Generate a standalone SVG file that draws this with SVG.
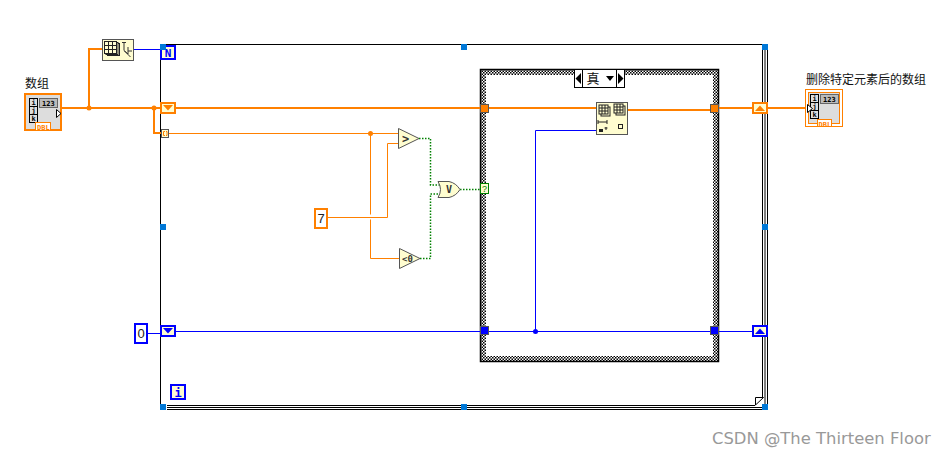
<svg xmlns="http://www.w3.org/2000/svg" width="948" height="454" viewBox="0 0 948 454">
<defs>
<pattern id="chk" width="3" height="3" patternUnits="userSpaceOnUse"><rect width="3" height="3" fill="#fff"/><rect width="1.500" height="1.500" fill="#000"/><rect x="1.500" y="1.500" width="1.500" height="1.500" fill="#000"/></pattern>
<g id="grid"><rect x="3" y="2" width="12" height="12" fill="#fffdd0" stroke="#222"/><rect x="1.500" y="1" width="12" height="12" fill="#fffdd0" stroke="#222"/><rect x="0" y="0" width="12" height="12" fill="#fffdd0" stroke="#222"/><path d="M4 0V12M8 0V12M0 4H12M0 8H12" stroke="#222" fill="none"/></g>
<g id="grids"><rect x="2" y="2" width="9" height="9" fill="#fffdd0" stroke="#222"/><rect x="0" y="0" width="9" height="9" fill="#fffdd0" stroke="#222"/><path d="M3 0V9M6 0V9M0 3H9M0 6H9" stroke="#222" fill="none"/></g>
</defs>
<style>
.lb{font-family:"Liberation Sans","Noto Sans CJK SC",sans-serif;font-size:12px;fill:#111}
.org{stroke:#ff8000;fill:none}
.blu{stroke:#0000ff;fill:none}
.grn{stroke:#008000;stroke-width:1.500;stroke-dasharray:1.500 1.500;fill:none}
.hnd{fill:#0078d7}
.fn{fill:#fffdd0;stroke:#555;stroke-width:1}
.idx{fill:#ddd;stroke:#000}
.mono{font-family:"DejaVu Sans Mono",monospace;font-weight:bold}
</style>
<rect width="948" height="454" fill="#fff"/>
<g id="while-loop" fill="none" stroke="#000">
<path d="M163 44.500H762M160.500 47V404"/>
<path d="M762.500 50V397M765 50V404M767.500 50V404"/>
<path d="M167 405.500H755M167 407.500H762M167 409.500H762"/>
<path d="M755.500 405V397.500H763.500L755.500 405Z" fill="#fff"/>
</g>
<g id="case-structure">
<path fill-rule="evenodd" d="M480 69H719V362H480ZM486 75V356H713V75Z" fill="url(#chk)"/>
<rect x="480.500" y="69.500" width="238" height="292" fill="none" stroke="#000" stroke-width="1.500"/>
</g>
<g id="connectors">
<path class="org" stroke-width="2" d="M62 108H480M89 108V49H102M154 108V133H161"/>
<path class="org" stroke-width="2" d="M489 108H596M628 110H710M719 108H805"/>
<path class="org" d="M169 133.500H398M370.500 133.500V214.500M370.500 219.500V258.500H399M328 217.500H387.500V143.500H398"/>
<circle cx="89" cy="108" r="2.500" fill="#ff8000"/><circle cx="154" cy="108" r="2.500" fill="#ff8000"/><circle cx="370.500" cy="133.500" r="2.500" fill="#ff8000"/>
<path class="blu" stroke-width="1" d="M134 49.500H160M148 333.500H160M176 331.500H752M535.500 331V130.500H597"/>
<circle cx="535.500" cy="331.500" r="2.500" fill="#0000ff"/>
<path class="grn" d="M419 138.500H430.500V185H441M420 258.500H430.500V194H441M460 189.500H481"/>
</g>
<g id="input-array">
<text class="lb" x="25" y="88">数组</text>
<rect x="25" y="94" width="36" height="36" fill="#ddd" stroke="#ff8000" stroke-width="2"/>
<rect class="idx" x="29.500" y="98.500" width="8" height="8"/><rect class="idx" x="29.500" y="106.500" width="8" height="8"/><rect class="idx" x="29.500" y="114.500" width="8" height="8"/>
<text class="mono" font-size="7" x="31.500" y="105">i</text><text class="mono" font-size="7" x="31.500" y="113">j</text><text class="mono" font-size="7" x="31.500" y="121">k</text>
<rect x="39.500" y="98.500" width="18" height="9" fill="#bbb" stroke="#666"/><text class="mono" font-size="7" x="42" y="106">123</text>
<rect x="35.500" y="122.500" width="15" height="8" fill="#fff" stroke="#ff8000"/><text class="mono" font-size="7" x="37" y="129.500" fill="#ff8000">DBL</text>
<path d="M56.500 109.500L61 113.500L56.500 117.500Z" fill="#fff" stroke="#000"/>
</g>
<g id="array-size">
<rect x="102.500" y="39.500" width="31" height="21" class="fn"/>
<use href="#grid" x="104.500" y="41.500"/>
<path d="M122 42.500H126M124 42.500V50M128 47V54L124 50.500L130.500 57M128 51H132" stroke="#333" fill="none"/>
</g>
<g id="count-terminal">
<rect x="161" y="46" width="14" height="13" fill="#fffdd0" stroke="#0000ff" stroke-width="2"/>
<text x="168" y="57" font-size="11" text-anchor="middle" class="mono" fill="#0000ff">N</text>
</g>
<g id="shift-left-top"><rect x="161" y="103" width="14" height="10" fill="#fffdd0" stroke="#ff8000" stroke-width="2"/><path d="M163 105H173L168 110.500Z" fill="#ff8000"/></g>
<g id="index-tunnel"><rect x="161.500" y="129.500" width="7" height="8" fill="#fffdd0" stroke="#555"/><path d="M165 131.500H163.500V135.500H165M166 131.500H167V135.500H166" stroke="#ff8000" fill="none"/></g>
<g id="shift-right-top"><rect x="753" y="103" width="14" height="10" fill="#fffdd0" stroke="#ff8000" stroke-width="2"/><path d="M755 111H765L760 105.500Z" fill="#ff8000"/></g>
<g id="output-array">
<text class="lb" x="806" y="84">删除特定元素后的数组</text>
<rect x="805.500" y="89.500" width="37" height="37" fill="#fff" stroke="#ff8000"/>
<rect x="808.500" y="92.500" width="31" height="31" fill="#ddd" stroke="#ff8000"/>
<rect class="idx" x="810.500" y="94.500" width="8" height="8"/><rect class="idx" x="810.500" y="102.500" width="8" height="8"/><rect class="idx" x="810.500" y="110.500" width="8" height="8"/>
<text class="mono" font-size="7" x="812.500" y="101">i</text><text class="mono" font-size="7" x="812.500" y="109">j</text><text class="mono" font-size="7" x="812.500" y="117">k</text>
<rect x="820.500" y="94.500" width="18" height="9" fill="#bbb" stroke="#666"/><text class="mono" font-size="7" x="823" y="102">123</text>
<rect x="817.500" y="119.500" width="14" height="7" fill="#fff" stroke="#ff8000"/><text class="mono" font-size="7" x="818.500" y="126.500" fill="#ff8000">DBL</text>
<path d="M807.500 104.500L812.500 108.500L807.500 112.500Z" fill="#fff" stroke="#000"/>
</g>
<g id="case-selector">
<rect x="574.500" y="69.500" width="50" height="18" fill="#fff" stroke="#000"/>
<path d="M582.500 69.500V87.500M616.500 69.500V87.500" stroke="#000"/>
<path d="M581 73V84L575.500 78.500ZM618 73V84L623.500 78.500ZM606 76H614L610 81Z" fill="#000"/>
<text x="593" y="83" font-size="13" text-anchor="middle" font-family="'Noto Sans CJK SC',sans-serif" fill="#111">真</text>
</g>
<g id="tunnels">
<rect x="480.500" y="104.500" width="8" height="8" fill="#ff8000" stroke="#555"/>
<rect x="710.500" y="104.500" width="8" height="8" fill="#ff8000" stroke="#555"/>
<rect x="480.500" y="326.500" width="8" height="8" fill="#0000ff" stroke="#555"/>
<rect x="710.500" y="326.500" width="8" height="8" fill="#0000ff" stroke="#555"/>
</g>
<g id="delete-from-array">
<rect x="596.500" y="102.500" width="31" height="32" class="fn"/>
<use href="#grids" x="599" y="105"/><use href="#grids" x="614" y="104"/>
<path d="M598 120V124M607 120V124M598 122H607" stroke="#222" fill="none"/>
<rect x="599" y="129" width="4" height="3" fill="#222"/>
<path d="M606 130V127M604.500 128H607.500" stroke="#222" fill="none"/>
<rect x="618.500" y="124.500" width="4" height="4" fill="#fffdd0" stroke="#222"/>
</g>
<g id="greater-than"><path class="fn" d="M398.500 128.500L419 138.500L398.500 148.500Z"/><text x="405.500" y="143" font-size="12" text-anchor="middle" class="mono" fill="#333">&gt;</text></g>
<g id="less-than-zero"><path class="fn" d="M399.500 248.500L420 258.500L399.500 268.500Z"/><text x="407.500" y="262" font-size="9" text-anchor="middle" class="mono" fill="#333">&lt;0</text></g>
<g id="or-gate"><path class="fn" d="M438 181.500H449Q456 183 460 189.500Q456 196 449 197.500H438Q443 189.500 438 181.500Z"/><text x="449" y="193" font-size="10" text-anchor="middle" class="mono" fill="#333">V</text></g>
<g id="selector-terminal"><rect x="480.500" y="183.500" width="8" height="10" fill="#fffdd0" stroke="#008000"/><text x="484.500" y="192" font-size="9" text-anchor="middle" font-family="'Liberation Sans',sans-serif" fill="#008000">?</text></g>
<g id="const-7"><rect x="315" y="209" width="12" height="19" fill="#fff" stroke="#ff8000" stroke-width="2"/><text x="321" y="223" font-size="13" text-anchor="middle" font-family="'Liberation Sans',sans-serif" fill="#222">7</text></g>
<g id="const-0"><rect x="135" y="324" width="12" height="19" fill="#fff" stroke="#0000ff" stroke-width="2"/><text x="141" y="338" font-size="13" text-anchor="middle" font-family="'Liberation Sans',sans-serif" fill="#222">0</text></g>
<g id="shift-left-bottom"><rect x="161" y="326" width="14" height="10" fill="#fffdd0" stroke="#0000ff" stroke-width="2"/><path d="M163 328H173L168 333.500Z" fill="#0000ff"/></g>
<g id="shift-right-bottom"><rect x="753" y="326" width="14" height="10" fill="#fffdd0" stroke="#0000ff" stroke-width="2"/><path d="M755 334H765L760 328.500Z" fill="#0000ff"/></g>
<g id="iteration-terminal"><rect x="171" y="385" width="14" height="14" fill="#fffdd0" stroke="#0000ff" stroke-width="2"/><text x="178" y="397" font-size="12" text-anchor="middle" class="mono" fill="#0000ff">i</text></g>
<g id="loop-handles" class="hnd"><rect x="160" y="44" width="6" height="6"/><rect x="461" y="44" width="6" height="6"/><rect x="762" y="44" width="6" height="6"/><rect x="160" y="224" width="6" height="6"/><rect x="762" y="224" width="6" height="6"/><rect x="160" y="404" width="6" height="6"/><rect x="461" y="404" width="6" height="6"/><rect x="762" y="404" width="6" height="6"/></g>
<text x="712" y="444" font-size="16.400" font-family="'DejaVu Sans',sans-serif" fill="#999">CSDN @The Thirteen Floor</text>
</svg>
